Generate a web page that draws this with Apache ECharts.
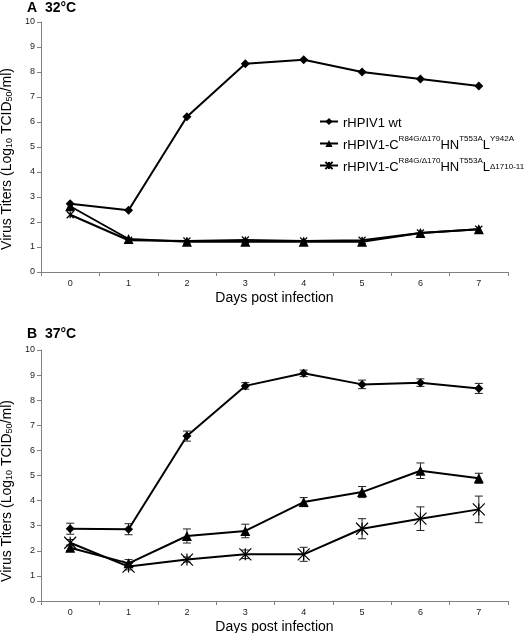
<!DOCTYPE html>
<html><head><meta charset="utf-8">
<script src="https://cdn.jsdelivr.net/npm/echarts@6/dist/echarts.min.js"></script>
<style>html,body{margin:0;padding:0;background:#fff}#c{width:528px;height:633px}</style>
</head><body><div id="c"></div>
<script>
const days = ['0','1','2','3','4','5','6','7'];
// Panel A 32°C
const a_wt = [2.73, 2.47, 6.21, 8.33, 8.49, 8.00, 7.72, 7.44];
const a_y942 = [2.63, 1.32, 1.21, 1.21, 1.21, 1.21, 1.56, 1.71];
const a_d1710 = [2.29, 1.27, 1.24, 1.28, 1.24, 1.27, 1.56, 1.71];
// Panel B 37°C
const b_wt = [2.88, 2.86, 6.57, 8.57, 9.07, 8.63, 8.70, 8.47];
const b_wt_err = [0.22, 0.22, 0.20, 0.13, 0.13, 0.17, 0.15, 0.20];
const b_y942 = [2.12, 1.50, 2.59, 2.79, 3.94, 4.34, 5.19, 4.89];
const b_y942_err = [0.11, 0.15, 0.28, 0.27, 0.18, 0.22, 0.31, 0.20];
const b_d1710 = [2.32, 1.37, 1.65, 1.86, 1.86, 2.88, 3.28, 3.65];
const b_d1710_err = [0.13, 0.13, 0.10, 0.17, 0.28, 0.40, 0.47, 0.53];
const yTicks = [0,1,2,3,4,5,6,7,8,9,10];

const FONT = 'Liberation Sans, Arial, sans-serif';
const AX = '#808080';
const star = 'path://M0,0L10,10M10,0L0,10M5,0L5,10';

const chart = echarts.init(document.getElementById('c'), null, {renderer:'canvas'});

function xAxis(gi){
  return {type:'category', gridIndex:gi, data:days, boundaryGap:true,
    axisLine:{lineStyle:{color:AX,width:1}},
    axisTick:{show:true,length:4,inside:false,lineStyle:{color:AX}},
    axisLabel:{color:'#222',fontSize:9,fontFamily:FONT,margin:7},
    name:'Days post infection', nameLocation:'middle', nameGap:19,
    nameTextStyle:{color:'#000',fontSize:14,fontFamily:FONT}};
}
function yAxis(gi, padR){
  return {type:'value', gridIndex:gi, min:0, max:10, interval:1,
    axisLine:{show:true,lineStyle:{color:AX,width:1}},
    axisTick:{show:true,length:4,lineStyle:{color:AX}},
    splitLine:{show:false},
    axisLabel:{color:'#222',fontSize:9,fontFamily:FONT,margin:6,
      formatter:v=>yTicks.includes(v)?String(v):''},
    name:'Virus Titers (Log{s|10} TCID{s|50}/ml)', nameLocation:'middle', nameGap:26,
    nameTextStyle:{color:'#000',fontSize:14,fontFamily:FONT,padding:[0,padR,0,0],
      rich:{s:{fontSize:9,fontFamily:FONT,color:'#000',verticalAlign:'bottom',lineHeight:14}}}};
}
function lineSeries(name, data, symbol, size, xi){
  return {type:'line', name:name, data:data, xAxisIndex:xi, yAxisIndex:xi,
    symbol:symbol, symbolSize:size, showSymbol:true,
    lineStyle:{color:'#000',width:2},
    itemStyle:{color:'#000',borderColor:'#000',borderWidth: symbol===star?1.2:0},
    z:3, animation:false};
}
function errSeries(vals, errs, xi){
  return {type:'custom', xAxisIndex:xi, yAxisIndex:xi, z:2, silent:true, animation:false,
    data: vals.map((v,i)=>[i, v, errs[i]]),
    renderItem:function(params, api){
      const x = api.value(0), v = api.value(1), e = api.value(2);
      const lo = api.coord([x, v-e]), hi = api.coord([x, v+e]);
      const w = 4;
      const st = {stroke:'#222', lineWidth:1};
      return {type:'group', children:[
        {type:'line', shape:{x1:lo[0],y1:lo[1],x2:hi[0],y2:hi[1]}, style:st},
        {type:'line', shape:{x1:lo[0]-w,y1:lo[1],x2:lo[0]+w,y2:lo[1]}, style:st},
        {type:'line', shape:{x1:hi[0]-w,y1:hi[1],x2:hi[0]+w,y2:hi[1]}, style:st}
      ]};
    }};
}

const legendNames = {
  'wt':'{a|rHPIV1 wt}',
  'Y942A':'{a|rHPIV1-C}{p|R84G/\u0394170}{a|HN}{p|T553A}{a|L}{p|Y942A}',
  'D1710':'{a|rHPIV1-C}{p|R84G/\u0394170}{a|HN}{p|T553A}{a|L}{b|\u03941710-11}'
};

chart.setOption({
  animation:false,
  backgroundColor:'#fff',
  title:[
    {text:'A  32\u00b0C', left:22, top:-4, textStyle:{fontSize:14,fontWeight:'bold',fontFamily:FONT,color:'#000'}},
    {text:'B  37\u00b0C', left:22, top:322, textStyle:{fontSize:14,fontWeight:'bold',fontFamily:FONT,color:'#000'}}
  ],
  grid:[
    {left:41, width:467, top:22, height:250, outerBoundsMode:'none', containLabel:false},
    {left:41, width:467, top:350, height:251, outerBoundsMode:'none', containLabel:false}
  ],
  xAxis:[xAxis(0), xAxis(1)],
  yAxis:[yAxis(0, 24), yAxis(1, 31)],
  legend:{orient:'vertical', left:314, top:112, itemGap:5, itemWidth:18, itemHeight:9,
    data:['wt','Y942A','D1710'],
    formatter:n=>legendNames[n],
    textStyle:{fontFamily:FONT, color:'#000',
      rich:{
        a:{fontSize:13,fontFamily:FONT,color:'#000',lineHeight:17,verticalAlign:'bottom'},
        p:{fontSize:8,fontFamily:FONT,color:'#000',lineHeight:17,verticalAlign:'top'},
        b:{fontSize:8,fontFamily:FONT,color:'#000',lineHeight:17,verticalAlign:'middle',padding:[2,0,0,0]}
      }}},
  series:[
    lineSeries('wt', a_wt, 'diamond', 9, 0),
    lineSeries('Y942A', a_y942, 'triangle', 10, 0),
    lineSeries('D1710', a_d1710, star, 7, 0),
    errSeries(b_wt, b_wt_err, 1),
    errSeries(b_y942, b_y942_err, 1),
    errSeries(b_d1710, b_d1710_err, 1),
    lineSeries('wt', b_wt, 'diamond', 9, 1),
    lineSeries('Y942A', b_y942, 'triangle', 10, 1),
    lineSeries('D1710', b_d1710, star, 12, 1)
  ]
});
</script></body></html>
